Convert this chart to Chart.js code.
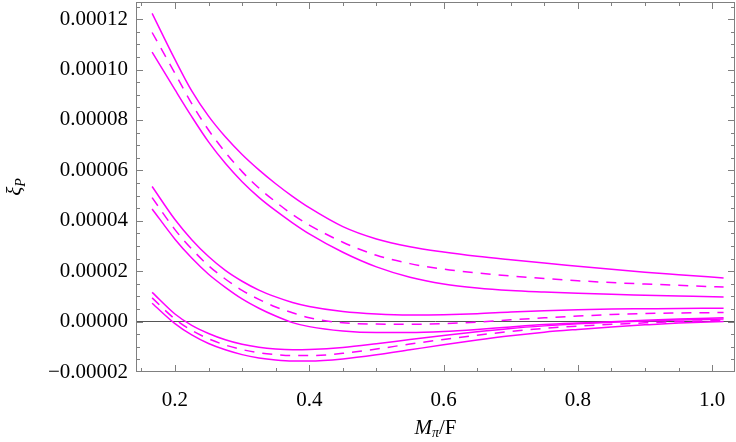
<!DOCTYPE html>
<html>
<head>
<meta charset="utf-8">
<script src="https://cdn.jsdelivr.net/npm/chart.js@4.4.1/dist/chart.umd.min.js"></script>
<style>
  html, body { margin: 0; padding: 0; background: #fff; }
  #wrap { width: 736px; height: 442px; }
</style>
</head>
<body>
<div id="wrap"><canvas id="xiChart"></canvas></div>
<script>
// sample positions along M_pi/F
const xs = [0.166, 0.2, 0.225, 0.25, 0.275, 0.3, 0.325, 0.35, 0.375, 0.4, 0.45, 0.5,
            0.55, 0.6, 0.65, 0.7, 0.75, 0.8, 0.85, 0.9, 0.95, 1.017];

// upper band
const topHi  = [12.23e-5, 10.40e-5, 9.15e-5, 8.15e-5, 7.33e-5, 6.63e-5, 6.02e-5, 5.47e-5, 4.97e-5, 4.52e-5, 3.77e-5, 3.28e-5,
                2.97e-5, 2.76e-5, 2.59e-5, 2.45e-5, 2.32e-5, 2.20e-5, 2.08e-5, 1.96e-5, 1.86e-5, 1.73e-5];
const topMid = [11.47e-5, 9.85e-5, 8.65e-5, 7.60e-5, 6.72e-5, 5.95e-5, 5.30e-5, 4.75e-5, 4.25e-5, 3.83e-5, 3.15e-5, 2.63e-5,
                2.30e-5, 2.08e-5, 1.93e-5, 1.81e-5, 1.71e-5, 1.62e-5, 1.55e-5, 1.49e-5, 1.44e-5, 1.37e-5];
const topLo  = [10.69e-5, 9.20e-5, 8.13e-5, 7.13e-5, 6.28e-5, 5.55e-5, 4.93e-5, 4.40e-5, 3.92e-5, 3.48e-5, 2.75e-5, 2.17e-5,
                1.76e-5, 1.49e-5, 1.33e-5, 1.23e-5, 1.17e-5, 1.12e-5, 1.08e-5, 1.05e-5, 1.02e-5, 0.98e-5];

// middle band
const midHi  = [5.36e-5, 4.05e-5, 3.25e-5, 2.58e-5, 2.03e-5, 1.60e-5, 1.25e-5, 0.98e-5, 0.76e-5, 0.60e-5, 0.40e-5, 0.30e-5,
                0.26e-5, 0.27e-5, 0.31e-5, 0.38e-5, 0.43e-5, 0.47e-5, 0.50e-5, 0.51e-5, 0.52e-5, 0.53e-5];
const midMid = [4.92e-5, 3.65e-5, 2.88e-5, 2.22e-5, 1.69e-5, 1.24e-5, 0.88e-5, 0.58e-5, 0.35e-5, 0.15e-5, -0.05e-5, -0.10e-5,
                -0.11e-5, -0.08e-5, -0.02e-5, 0.07e-5, 0.15e-5, 0.22e-5, 0.28e-5, 0.32e-5, 0.34e-5, 0.36e-5];
const midLo  = [4.47e-5, 3.27e-5, 2.52e-5, 1.88e-5, 1.36e-5, 0.90e-5, 0.53e-5, 0.22e-5, -0.04e-5, -0.20e-5, -0.37e-5, -0.43e-5,
                -0.43e-5, -0.39e-5, -0.31e-5, -0.21e-5, -0.12e-5, -0.06e-5, -0.01e-5, 0.05e-5, 0.10e-5, 0.15e-5];

// lower band
const lowHi  = [1.16e-5, 0.30e-5, -0.15e-5, -0.47e-5, -0.72e-5, -0.90e-5, -1.02e-5, -1.09e-5, -1.12e-5, -1.11e-5, -1.03e-5, -0.88e-5,
                -0.71e-5, -0.55e-5, -0.40e-5, -0.27e-5, -0.17e-5, -0.09e-5, -0.03e-5, 0.02e-5, 0.06e-5, 0.10e-5];
const lowMid = [0.94e-5, 0.10e-5, -0.35e-5, -0.68e-5, -0.93e-5, -1.11e-5, -1.24e-5, -1.31e-5, -1.35e-5, -1.35e-5, -1.26e-5, -1.09e-5,
                -0.89e-5, -0.71e-5, -0.54e-5, -0.39e-5, -0.27e-5, -0.18e-5, -0.11e-5, -0.05e-5, 0.00e-5, 0.05e-5];
const lowLo  = [0.73e-5, -0.08e-5, -0.53e-5, -0.87e-5, -1.12e-5, -1.31e-5, -1.44e-5, -1.52e-5, -1.56e-5, -1.56e-5, -1.48e-5, -1.32e-5,
                -1.12e-5, -0.92e-5, -0.73e-5, -0.56e-5, -0.42e-5, -0.31e-5, -0.21e-5, -0.13e-5, -0.06e-5, 0.00e-5];

const xTicks = [0.2, 0.4, 0.6, 0.8, 1.0];
const xMinor = [0.15, 0.25, 0.3, 0.35, 0.45, 0.5, 0.55, 0.65, 0.7, 0.75, 0.85, 0.9, 0.95];
const yTicks = [-0.00002, 0, 0.00002, 0.00004, 0.00006, 0.00008, 0.00010, 0.00012];
const yMinor = [-0.000015, -0.00001, -0.000005, 0.000005, 0.00001, 0.000015, 0.000025, 0.00003, 0.000035,
                0.000045, 0.00005, 0.000055, 0.000065, 0.00007, 0.000075, 0.000085, 0.00009, 0.000095,
                0.000105, 0.00011, 0.000115, 0.000125];

const MAGENTA = '#ff00ff';
const FONT = 'Liberation Serif';

function series(vals, dashed) {
    return {
        data: xs.map((x, i) => ({ x: x, y: vals[i] })),
        borderColor: MAGENTA,
        borderWidth: 1.5,
        borderDash: dashed ? [10, 8] : [],
        pointRadius: 0,
        fill: false,
        cubicInterpolationMode: 'monotone'
    };
}

// frame with inward ticks on all four sides, plus the two axis titles
const frameTicks = {
    id: 'frameTicks',
    afterDatasetsDraw(chart) {
        const c = chart.ctx, a = chart.chartArea;
        const sx = chart.scales.x, sy = chart.scales.y;
        c.save();
        c.strokeStyle = '#808080';
        c.lineWidth = 1;
        c.strokeRect(a.left + 0.5, a.top + 0.5, a.right - a.left - 1, a.bottom - a.top - 1);
        c.beginPath();
        const tx = (vals, len) => vals.forEach(v => {
            const p = Math.round(sx.getPixelForValue(v)) + 0.5;
            if (p < a.left || p > a.right) return;
            c.moveTo(p, a.bottom); c.lineTo(p, a.bottom - len);
            c.moveTo(p, a.top); c.lineTo(p, a.top + len);
        });
        const ty = (vals, len) => vals.forEach(v => {
            const p = Math.round(sy.getPixelForValue(v)) + 0.5;
            if (p < a.top || p > a.bottom) return;
            c.moveTo(a.left, p); c.lineTo(a.left + len, p);
            c.moveTo(a.right, p); c.lineTo(a.right - len, p);
        });
        tx(xTicks, 7); tx(xMinor, 4);
        ty(yTicks, 7); ty(yMinor, 4);
        c.stroke();

        // x title: M_pi / F
        c.fillStyle = '#000';
        c.textBaseline = 'alphabetic';
        const cx = (a.left + a.right) / 2, by = 434;
        c.font = 'italic 21px "' + FONT + '"';
        const wM = c.measureText('M').width;
        c.font = 'italic 14px "' + FONT + '"';
        const wPi = c.measureText('\u03c0').width;
        c.font = '21px "' + FONT + '"';
        const wF = c.measureText('/F').width;
        let x0 = cx - (wM + wPi + wF) / 2;
        c.font = 'italic 21px "' + FONT + '"';
        c.fillText('M', x0, by); x0 += wM;
        c.font = 'italic 14px "' + FONT + '"';
        c.fillText('\u03c0', x0, by + 3); x0 += wPi;
        c.font = '21px "' + FONT + '"';
        c.fillText('/F', x0, by);

        // y title: xi_P, rotated
        c.translate(21, (a.top + a.bottom) / 2);
        c.rotate(-Math.PI / 2);
        c.font = 'italic 21px "' + FONT + '"';
        const wXi = c.measureText('\u03be').width;
        c.font = 'italic 14px "' + FONT + '"';
        const wP = c.measureText('P').width;
        let y0 = -(wXi + wP) / 2;
        c.font = 'italic 21px "' + FONT + '"';
        c.fillText('\u03be', y0, 0); y0 += wXi;
        c.font = 'italic 14px "' + FONT + '"';
        c.fillText('P', y0, 4);
        c.restore();
    }
};

new Chart(document.getElementById('xiChart').getContext('2d'), {
    type: 'line',
    data: {
        datasets: [
            series(topHi, false), series(topMid, true), series(topLo, false),
            series(midHi, false), series(midMid, true), series(midLo, false),
            series(lowHi, false), series(lowMid, true), series(lowLo, false)
        ]
    },
    options: {
        responsive: true,
        maintainAspectRatio: false,
        animation: false,
        layout: { padding: { top: 2, right: 1, left: 0, bottom: 0 } },
        plugins: { legend: { display: false }, tooltip: { enabled: false } },
        scales: {
            x: {
                type: 'linear',
                min: 0.142,
                max: 1.034,
                afterBuildTicks: s => { s.ticks = xTicks.map(v => ({ value: v })); },
                afterFit: s => { s.height = 70; s.paddingLeft = 0; s.paddingRight = 0; },
                grid: { display: false },
                border: { display: false },
                ticks: {
                    autoSkip: false,
                    maxRotation: 0,
                    padding: 8,
                    color: '#000',
                    font: { family: FONT, size: 21 },
                    callback: v => v.toFixed(1)
                }
            },
            y: {
                min: -0.00002,
                max: 0.0001268,
                afterBuildTicks: s => { s.ticks = yTicks.map(v => ({ value: v })); },
                afterFit: s => { s.width = 136; s.paddingTop = 0; s.paddingBottom = 0; },
                grid: {
                    drawTicks: false,
                    lineWidth: 1,
                    color: ctx => (ctx.tick && ctx.tick.value === 0) ? '#555' : 'rgba(0,0,0,0)'
                },
                border: { display: false },
                ticks: {
                    padding: 8,
                    color: '#000',
                    font: { family: FONT, size: 21 },
                    callback: v => (v < 0 ? '\u2212' : '') + Math.abs(v).toFixed(5)
                }
            }
        }
    },
    plugins: [frameTicks]
});
</script>
</body>
</html>
